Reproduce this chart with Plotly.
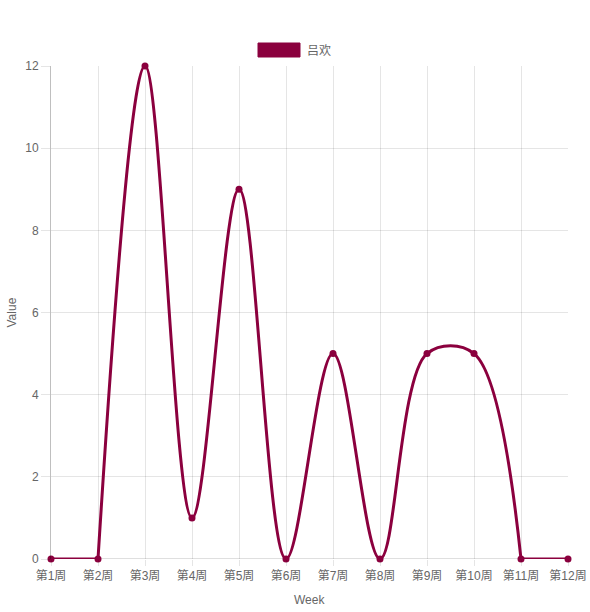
import plotly.graph_objects as go

weeks = ["第1周", "第2周", "第3周", "第4周", "第5周", "第6周", "第7周", "第8周", "第9周", "第10周", "第11周", "第12周"]
values = [0, 0, 12, 1, 9, 0, 5, 0, 5, 5, 0, 0]
series_name = "吕欢"
color = "#8b003e"
font = "Liberation Sans, Arial, Noto Sans CJK SC, sans-serif"

L, R, T, B, W, H = 51, 22, 66, 53, 590, 612
pw, ph = W - L - R, H - T - B

fig = go.Figure()
fig.add_trace(go.Scatter(
    x=weeks, y=values, mode="markers", name=series_name,
    marker=dict(color=color, size=7),
    showlegend=False, cliponaxis=False,
))
# flat start/end segments drawn straight, the middle smoothed (mimics capped bezier)
fig.add_trace(go.Scatter(
    x=weeks[:2], y=values[:2], mode="lines",
    line=dict(color=color, width=3), showlegend=False, hoverinfo="skip",
))
fig.add_trace(go.Scatter(
    x=weeks[-2:], y=values[-2:], mode="lines",
    line=dict(color=color, width=3), showlegend=False, hoverinfo="skip",
))
fig.add_trace(go.Scatter(
    x=weeks[1:-1], y=values[1:-1], mode="lines",
    line=dict(color=color, width=3, shape="spline", smoothing=1.0),
    showlegend=False, hoverinfo="skip",
))

fig.update_layout(
    width=W, height=H,
    margin=dict(l=L, r=R, t=T, b=B),
    paper_bgcolor="white", plot_bgcolor="white",
    font=dict(family=font, size=12, color="#666"),
    xaxis=dict(
        type="category", categoryorder="array", categoryarray=weeks,
        range=[0, 11], showgrid=True, gridcolor="rgba(0,0,0,0.1)", gridwidth=1,
        ticks="outside", ticklen=6, tickcolor="rgba(0,0,0,0.1)",
        showline=False, zeroline=False, automargin=False,
    ),
    yaxis=dict(
        range=[0, 12], dtick=2, showgrid=True, gridcolor="rgba(0,0,0,0.1)", gridwidth=1,
        ticks="outside", ticklen=9, tickcolor="rgba(0,0,0,0.1)",
        showline=True, linecolor="rgba(0,0,0,0.25)", linewidth=1,
        zeroline=False, automargin=False,
    ),
    shapes=[
        dict(type="line", xref="paper", yref="y", x0=0, x1=1, y0=0, y1=0,
             line=dict(color="rgba(0,0,0,0.25)", width=1), layer="below"),
        dict(type="rect", xref="paper", yref="paper",
             x0=(258 - L) / pw, x1=(300 - L) / pw,
             y0=(H - B - 57) / ph, y1=(H - B - 43) / ph,
             fillcolor=color, line=dict(color=color, width=1)),
    ],
    annotations=[
        dict(text=series_name, xref="paper", yref="paper",
             x=(305 - L) / pw, y=(H - B - 50) / ph, xanchor="left", yanchor="middle",
             showarrow=False, font=dict(size=12, color="#666")),
        dict(text="Week", xref="paper", yref="paper",
             x=0.5, y=(H - B - 600) / ph, xanchor="center", yanchor="middle",
             showarrow=False, font=dict(size=12, color="#666")),
        dict(text="Value", xref="paper", yref="paper",
             x=(11 - L) / pw, y=0.5, xanchor="center", yanchor="middle", textangle=-90,
             showarrow=False, font=dict(size=12, color="#666")),
    ],
)

fig.write_html("out.html", config={"displayModeBar": False},
               post_script="document.body.style.margin='0';")
